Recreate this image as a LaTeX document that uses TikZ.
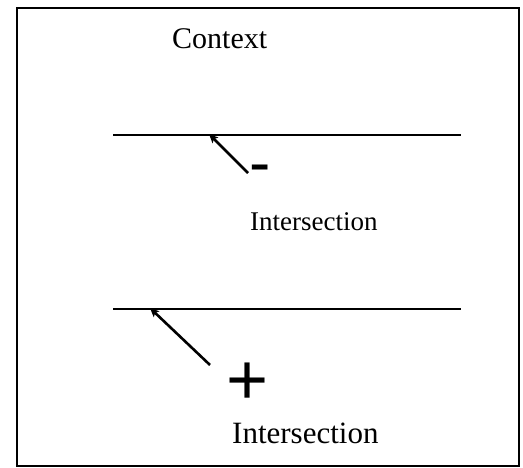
\documentclass[tikz,border=0pt]{standalone}
\usepackage{fontspec}
\setmainfont{Liberation Serif}
\newfontfamily\signfont{Liberation Sans}
\usetikzlibrary{arrows.meta,positioning}

\begin{document}
\begin{tikzpicture}[x=1pt,y=-1pt,
  lbl/.style={anchor=base west,inner sep=0pt},
  sign/.style={inner sep=0pt,font=\signfont},
  level/.style={line width=2pt},
  arr/.style={-{Stealth[length=9pt,width=8pt,inset=2pt]},line width=2.6pt}]
  \useasboundingbox (0,0) rectangle (523,468);
  % Frame
  \draw[line width=2pt] (17,8) rectangle (519,466);
  \node[lbl,font=\fontsize{30}{30}\selectfont] (context) at (172,49) {Context};
  % Upper level: negative intersection
  \draw[level] (113,135) coordinate (upL) -- (461,135) coordinate (upR);
  \coordinate (hitA) at (209,134);
  \coordinate (tailA) at (248,173);
  \draw[arr] (tailA) -- (hitA);
  \node[sign,font=\signfont\fontsize{64}{64}\selectfont] (minus) at (260,175) {-};
  \node[lbl,font=\fontsize{27}{27}\selectfont] (interA) at (250,231) {Intersection};
  % Lower level: positive intersection
  \draw[level] (113,309) coordinate (loL) -- (461,309) coordinate (loR);
  \coordinate (hitB) at (150,308);
  \coordinate (tailB) at (210,365);
  \draw[arr] (tailB) -- (hitB);
  \node[sign,font=\signfont\fontsize{72}{72}\selectfont] (plus) at (248,384) {+};
  \node[lbl,font=\fontsize{31}{31}\selectfont] (interB) at (232,443) {Intersection};
\end{tikzpicture}
\end{document}
